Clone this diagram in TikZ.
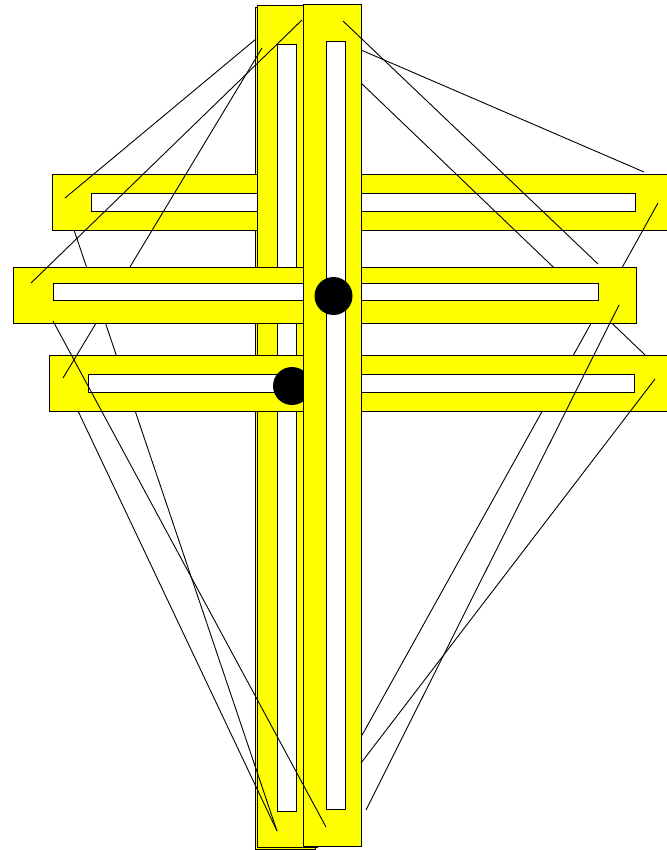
\documentclass[tikz,border=0pt]{standalone}
\definecolor{barfill}{RGB}{255,255,0}
\begin{document}
\begin{tikzpicture}[x=1pt,y=-1pt,line width=0.9pt,
  bar/.style={fill=barfill,draw=black},
  slot/.style={fill=white,draw=black},
  wire/.style={draw=black,line width=0.9pt}]
\useasboundingbox (0,0) rectangle (666,850);
\draw[bar] (255,7) rectangle (315,849);
\draw[bar] (52,174) rectangle (680,230);
\draw[slot] (91,193) rectangle (635,211);
\draw[bar] (257,5) rectangle (317,847);
\draw[slot] (277,44) rectangle (296,811);
\draw[wire] (74,230) -- (277,831);
\draw[wire] (658,203) -- (361,737);
\draw[wire] (361,83) -- (690,398);
\draw[bar] (49,355) rectangle (680,411);
\draw[slot] (88,374) rectangle (634,392);
\draw[wire] (63,378) -- (262,48);
\draw[bar] (13,267) rectangle (636,323);
\draw[slot] (53,283) rectangle (598,300.5);
\fill (292,386) circle (19);
\draw[bar] (303,4) rectangle (361,846);
\draw[slot] (326,41) rectangle (345,809);
\fill (333.5,296) circle (19);
\draw[wire] (65,198) -- (256,39);
\draw[wire] (31,283) -- (302,20);
\draw[wire] (53,321) -- (326,827);
\draw[wire] (78,411) -- (277,831);
\draw[wire] (343,21) -- (598,264);
\draw[wire] (361,50) -- (644,172);
\draw[wire] (619,305) -- (366,810);
\draw[wire] (655,379) -- (361,763);
\end{tikzpicture}
\end{document}
